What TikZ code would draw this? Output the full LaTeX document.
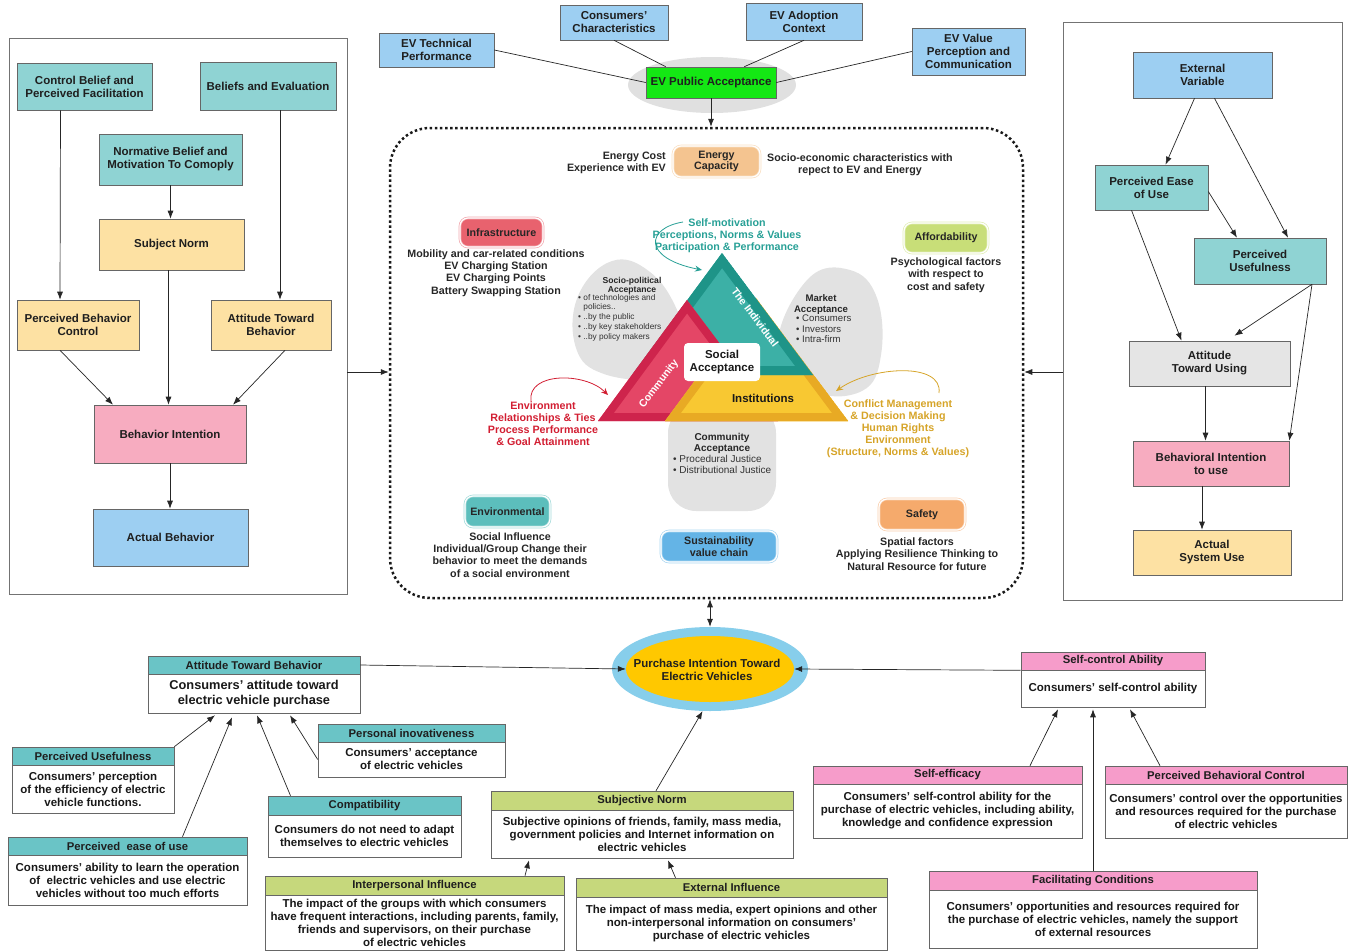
\documentclass[tikz,border=0pt]{standalone}
\usepackage{fontspec}
\setmainfont{Liberation Sans}
\usetikzlibrary{arrows.meta,shapes.geometric,calc}
\definecolor{lblue}{RGB}{157,207,242}
\definecolor{tealL}{RGB}{143,211,211}
\definecolor{peach}{RGB}{253,225,163}
\definecolor{pinkB}{RGB}{247,172,192}
\definecolor{grayE}{RGB}{224,224,224}
\definecolor{evgreen}{RGB}{20,232,20}
\definecolor{hteal}{RGB}{106,196,198}
\definecolor{hgreen}{RGB}{198,216,124}
\definecolor{hpink}{RGB}{246,156,202}
\definecolor{skyb}{RGB}{135,206,235}
\definecolor{goldy}{RGB}{255,200,0}
\definecolor{enC}{RGB}{244,196,144}
\definecolor{infC}{RGB}{232,98,110}
\definecolor{affC}{RGB}{200,222,120}
\definecolor{envC}{RGB}{92,190,188}
\definecolor{susC}{RGB}{100,180,230}
\definecolor{safC}{RGB}{245,170,108}
\definecolor{blob}{RGB}{226,226,226}
\definecolor{tealD}{RGB}{30,148,136}
\definecolor{tealM}{RGB}{60,176,166}
\definecolor{redD}{RGB}{206,36,76}
\definecolor{redM}{RGB}{228,70,102}
\definecolor{yelD}{RGB}{232,170,36}
\definecolor{yelM}{RGB}{248,200,50}
\definecolor{tealT}{RGB}{40,160,150}
\definecolor{redT}{RGB}{210,30,50}
\definecolor{goldT}{RGB}{214,164,40}
\begin{document}
\begin{tikzpicture}[x=1pt,y=-1pt,
  box/.style={draw=black!60, line width=0.6pt, align=center, inner sep=1pt, text=black!88, font=\bfseries\fontsize{11.5}{13}\selectfont},
  hd/.style={draw=black!60, line width=0.6pt, align=center, inner sep=0pt, text=black!88, font=\bfseries\fontsize{11.3}{12}\selectfont},
  bd/.style={draw=black!60, line width=0.6pt, align=center, inner sep=1pt, fill=white, text=black!90, font=\bfseries\fontsize{11.5}{13}\selectfont},
  pill/.style={rounded corners=8pt, draw=#1!55!white, double=white, double distance=1.2pt, line width=0.7pt, fill=#1, align=center, inner sep=1pt, text=black!85, font=\bfseries\fontsize{10.7}{11.5}\selectfont},
  ann/.style={align=center, inner sep=0pt, text=black!85, font=\bfseries\fontsize{10.7}{12.3}\selectfont},
  arr/.style={-{Latex[length=8pt,width=6pt]}, line width=0.7pt, draw=black!85},
  dbl/.style={{Latex[length=8pt,width=6pt]}-{Latex[length=8pt,width=6pt]}, line width=0.7pt, draw=black!85},
  ln/.style={line width=0.7pt, draw=black!85},
  panel/.style={draw=black!55, line width=0.7pt, fill=white},
  curv/.style={line width=0.8pt, -{Stealth[length=7pt,width=6pt]}}
]
\useasboundingbox (0,0) rectangle (1351,950);

% ---------------- top ----------------
\node[fill=grayE, ellipse, minimum width=168, minimum height=56, inner sep=0pt] (pubbg) at (712,85) {};
\node[box, fill=lblue, minimum width=115, minimum height=34] (techperf) at (436.5,50) {EV Technical\\Performance};
\node[box, fill=lblue, minimum width=108, minimum height=35] (conschar) at (614,22.5) {Consumers'\\Characteristics};
\node[box, fill=lblue, minimum width=116, minimum height=37] (adopt) at (804,21.5) {EV Adoption\\Context};
\node[box, fill=lblue, minimum width=113, minimum height=47] (value) at (968.5,51.5) {EV Value\\Perception and\\Communication};
\node[box, fill=evgreen, minimum width=130, minimum height=31] (pubacc) at (711,82.5) {EV Public Acceptance};
\draw[ln] (techperf.east) -- (pubacc.west);
\draw[ln] (conschar.south) -- ([xshift=20pt]pubacc.north west);
\draw[ln] (adopt.south) -- ([xshift=-32pt]pubacc.north east);
\draw[ln] (value.west) -- (pubacc.east);

% ---------------- core dotted box ----------------
\node[draw=black!90, line width=2.5pt, dash pattern=on 2.5pt off 2.6pt, rounded corners=40pt, minimum width=633, minimum height=470] (core) at (706.5,363) {};
\draw[arr] (pubacc.south) -- (pubacc.south |- core.north);

% ---------------- left panel (TPB) ----------------
\node[panel, minimum width=338, minimum height=556] (tpb) at (178,316) {};
\node[box, fill=tealL, minimum width=135, minimum height=47] (cbpf) at (84.5,86.5) {Control Belief and\\Perceived Facilitation};
\node[box, fill=tealL, minimum width=136, minimum height=48] (beval) at (268,86) {Beliefs and Evaluation};
\node[box, fill=tealL, minimum width=143, minimum height=51] (nbmc) at (170.5,159.5) {Normative Belief and\\Motivation To Comoply};
\node[box, fill=peach, minimum width=145, minimum height=51] (snorm) at (171.5,244.5) {Subject Norm};
\node[box, fill=peach, minimum width=122, minimum height=50] (pbc) at (78,325) {Perceived Behavior\\Control};
\node[box, fill=peach, minimum width=120, minimum height=50] (atb) at (271,325) {Attitude Toward\\Behavior};
\node[box, fill=pinkB, minimum width=152, minimum height=58] (bint) at (170,434) {Behavior Intention};
\node[box, fill=lblue, minimum width=155, minimum height=57] (abeh) at (170.5,537.5) {Actual Behavior};
\draw[arr] ([xshift=-24pt]cbpf.south) -- ([xshift=-18pt]pbc.north);
\draw[arr] ([xshift=12pt]beval.south) -- ([xshift=9pt]atb.north);
\draw[arr] (nbmc.south) -- (nbmc.south |- snorm.north);
\draw[arr] ([xshift=-3pt]snorm.south) -- ([xshift=-3pt]snorm.south |- bint.north);
\draw[arr] ([xshift=-18pt]pbc.south) -- ([xshift=-57pt]bint.north);
\draw[arr] ([xshift=14pt]atb.south) -- ([xshift=63pt]bint.north);
\draw[arr] (bint.south) -- (bint.south |- abeh.north);
\draw[arr] (tpb.east |- 0,372) -- (core.west |- 0,372);

% ---------------- right panel (TAM) ----------------
\node[panel, minimum width=279, minimum height=578] (tam) at (1202.5,311) {};
\node[box, fill=lblue, minimum width=139, minimum height=46] (extv) at (1202.5,75) {External\\Variable};
\node[box, fill=tealL, minimum width=113, minimum height=45] (peou) at (1151.5,187.5) {Perceived Ease\\of Use};
\node[box, fill=tealL, minimum width=132, minimum height=46] (pu) at (1260,261) {Perceived\\Usefulness};
\node[box, fill=black!10, minimum width=161, minimum height=45] (atu) at (1209.5,363.5) {Attitude\\Toward Using};
\node[box, fill=pinkB, minimum width=156, minimum height=45] (biu) at (1211,463.5) {Behavioral Intention\\to use};
\node[box, fill=peach, minimum width=158, minimum height=45] (asu) at (1212,552.5) {Actual\\System Use};
\draw[arr] ([xshift=-8pt]extv.south) -- ([xshift=14pt]peou.north);
\draw[arr] ([xshift=12pt]extv.south) -- ([xshift=28pt]pu.north);
\draw[arr] ([yshift=-4pt]peou.east) -- ([xshift=-23pt]pu.north);
\draw[arr] ([xshift=-20pt]peou.south) -- ([xshift=-28pt]atu.north);
\draw[arr] ([xshift=52pt]pu.south) -- ([xshift=25pt,yshift=5pt]atu.north);
\draw[arr] ([xshift=52pt]pu.south) -- (biu.north east);
\draw[arr] ([xshift=-4pt]atu.south) -- ([xshift=-4pt]atu.south |- biu.north);
\draw[arr] ([xshift=-9pt]biu.south) -- ([xshift=-9pt]biu.south |- asu.north);
\draw[arr] (tam.west |- 0,372) -- (core.east |- 0,372);

% ---------------- inside core ----------------
% blobs
\fill[blob] plot[smooth cycle, tension=0.7] coordinates {(612,261) (650,272) (678,312) (690,362) (662,379) (604,374) (576,348) (578,296)};
\fill[blob] plot[smooth cycle, tension=0.7] coordinates {(808,279) (850,270) (877,298) (881,355) (862,391) (812,390) (778,345)};
\fill[blob, rounded corners=28pt] (668,405) rectangle (776,511);

% triangles
\begin{scope}
\clip (756,298)--(665,421)--(848,421)--cycle;
\fill[yelM] (756,298)--(665,421)--(848,421)--cycle;
\draw[yelD, line width=16pt, line join=miter] (756,298)--(665,421)--(848,421)--cycle;
\end{scope}
\begin{scope}
\clip (722,253)--(632,375)--(813,375)--cycle;
\fill[tealM] (722,253)--(632,375)--(813,375)--cycle;
\draw[tealD, line width=18pt, line join=miter] (722,253)--(632,375)--(813,375)--cycle;
\end{scope}
\begin{scope}
\clip (687,300)--(598,421)--(778,421)--cycle;
\fill[redM] (687,300)--(598,421)--(778,421)--cycle;
\draw[redD, line width=16pt, line join=miter] (687,300)--(598,421)--(778,421)--cycle;
\end{scope}
\begin{scope}
\clip (600,376) rectangle (860,425);
\clip (756,298)--(665,421)--(848,421)--cycle;
\fill[yelM] (756,298)--(665,421)--(848,421)--cycle;
\draw[yelD, line width=16pt, line join=miter] (756,298)--(665,421)--(848,421)--cycle;
\end{scope}
\node[fill=white, rounded corners=4pt, minimum width=76, minimum height=38, inner sep=1pt, align=center, text=black!90, font=\bfseries\fontsize{11.5}{13.5}\selectfont] (soc) at (722,362) {Social\\Acceptance};
\node[text=white, inner sep=0pt, rotate=-53, font=\bfseries\fontsize{10.5}{11}\selectfont] (indiv) at (755,317) {The Individual};
\node[text=white, inner sep=0pt, rotate=53, font=\bfseries\fontsize{10.5}{11}\selectfont] (commu) at (659,384) {Community};
\node[text=black!90, inner sep=0pt, font=\bfseries\fontsize{11.5}{12}\selectfont] (inst) at (763,398) {Institutions};

% blob texts
\node[align=center, inner sep=0pt, text=black!85, font=\bfseries\fontsize{8.6}{9.5}\selectfont] (spa) at (632,286) {Socio-political\\Acceptance};
\node[align=left, inner sep=0pt, anchor=north west, text=black!80, font=\fontsize{8.3}{9.7}\selectfont] (spb) at (578,294) {• of technologies and\\\phantom{•} policies..\\• ..by the public\\• ..by key stakeholders\\• ..by policy makers};
\node[align=center, inner sep=0pt, text=black!85, font=\bfseries\fontsize{9.6}{11}\selectfont] (maa) at (821,305) {Market\\Acceptance};
\node[align=left, inner sep=0pt, anchor=north west, text=black!80, font=\fontsize{9.6}{10.5}\selectfont] (mab) at (796,315) {• Consumers\\• Investors\\• Intra-firm};
\node[align=center, inner sep=0pt, text=black!85, font=\bfseries\fontsize{10}{11}\selectfont] (caa) at (722,443) {Community\\Acceptance};
\node[align=left, inner sep=0pt, anchor=north west, text=black!80, font=\fontsize{10}{11}\selectfont] (cab) at (673,455) {• Procedural Justice\\• Distributional Justice};

% annotations around triangle
\node[ann, text=tealT, font=\bfseries\fontsize{10.7}{12}\selectfont] (selfm) at (727,236) {Self-motivation\\Perceptions, Norms \& Values\\Participation \& Performance};
\node[ann, text=redT, font=\bfseries\fontsize{10.7}{12}\selectfont] (envt) at (543,424) {Environment\\Relationships \& Ties\\Process Performance\\\& Goal Attainment};
\node[ann, text=goldT, font=\bfseries\fontsize{10.7}{12}\selectfont] (conf) at (898,429) {Conflict Management\\\& Decision Making\\Human Rights\\Environment\\(Structure, Norms \& Values)};
\coordinate (tealst) at (683,222);
\coordinate (tealtip) at (702,270);
\coordinate (redst) at (531,401);
\coordinate (redtip) at (608,395);
\coordinate (yelst) at (939,393);
\coordinate (yeltip) at (836,391);
\draw[curv, tealT] (tealst) .. controls (646,228) and (642,258) .. (tealtip);
\draw[curv, redT] (redst) .. controls (527,372) and (585,372) .. (redtip);
\draw[curv, goldT] (yelst) .. controls (943,362) and (872,366) .. (yeltip);

% pills and texts
\node[pill=enC, minimum width=87, minimum height=31] (energy) at (716.5,161.5) {Energy\\Capacity};
\node[ann, anchor=east, align=right] (ecost) at (666,163) {Energy Cost\\Experience with EV};
\node[ann] (socio) at (860,165) {Socio-economic characteristics with\\repect to EV and Energy};
\node[pill=infC, minimum width=83, minimum height=29] (infra) at (501.5,232.5) {Infrastructure};
\node[ann] (infrat) at (496,273) {Mobility and car-related conditions\\EV Charging Station\\EV Charging Points\\Battery Swapping Station};
\node[pill=affC, minimum width=84, minimum height=30] (afford) at (946,238) {Affordability};
\node[ann] (affordt) at (946,275) {Psychological factors\\with respect to\\cost and safety};
\node[pill=envC, minimum width=85, minimum height=31] (envir) at (507.5,511.5) {Environmental};
\node[ann] (envirt) at (510,555) {Social Influence\\Individual/Group Change their\\behavior to meet the demands\\of a social environment};
\node[pill=susC, minimum width=116, minimum height=31] (sustain) at (719,546.5) {Sustainability\\value chain};
\node[pill=safC, minimum width=86, minimum height=31] (safety) at (922,514.5) {Safety};
\node[ann] (safetyt) at (917,554) {Spatial factors\\Applying Resilience Thinking to\\Natural Resource for future};

% ---------------- bottom ----------------
\node[ellipse, fill=skyb, minimum width=196, minimum height=84, inner sep=0pt] (pio) at (710,669) {};
\node[ellipse, fill=goldy, minimum width=168, minimum height=66, inner sep=0pt] (pin) at (710,669) {};
\node[align=center, inner sep=0pt, text=black!88, font=\bfseries\fontsize{11.5}{13}\selectfont] (pit) at (707,670) {Purchase Intention Toward\\Electric Vehicles};
\draw[dbl] (pio.north |- core.south) -- (pio.north);

% attitude group
\node[hd, fill=hteal, minimum width=212, minimum height=18] (atbh) at (254,665) {Attitude Toward Behavior};
\node[bd, minimum width=212, minimum height=39, font=\bfseries\fontsize{12.8}{15}\selectfont] (atbb) at (254,693.5) {Consumers' attitude toward\\electric vehicle purchase};
\node[hd, fill=hteal, minimum width=187, minimum height=18] (pinh) at (411.5,733) {Personal inovativeness};
\node[bd, minimum width=187, minimum height=35] (pinb) at (411.5,759.5) {Consumers' acceptance\\of electric vehicles};
\node[hd, fill=hteal, minimum width=162, minimum height=18] (puh) at (93,756) {Perceived Usefulness};
\node[bd, minimum width=162, minimum height=48] (pub) at (93,789) {Consumers' perception\\of the efficiency of electric\\vehicle functions.};
\node[hd, fill=hteal, minimum width=193, minimum height=19] (comh) at (364.5,805.5) {Compatibility};
\node[bd, minimum width=193, minimum height=42] (comb) at (364.5,836) {Consumers do not need to adapt\\themselves to electric vehicles};
\node[hd, fill=hteal, minimum width=239, minimum height=18] (peh) at (127.5,846) {Perceived~~ease of use};
\node[bd, minimum width=239, minimum height=50] (peb) at (127.5,880) {Consumers' ability to learn the operation\\of~ electric vehicles and use electric\\vehicles without too much efforts};
\draw[arr] (atbh.east) -- (pin.west);
\draw[arr] (puh.north east) -- ([xshift=-39pt,yshift=-2pt]atbb.south);
\draw[arr] ([xshift=55pt]peh.north) -- ([xshift=-22pt,yshift=-4pt]atbb.south);
\draw[arr] ([xshift=-74pt]comh.north) -- ([xshift=3pt,yshift=-2pt]atbb.south);
\draw[arr] (pinb.west) -- ([xshift=36pt,yshift=-2pt]atbb.south);

% subjective norm group
\node[hd, fill=hgreen, minimum width=302, minimum height=19] (snh) at (642,800.5) {Subjective Norm};
\node[bd, minimum width=302, minimum height=48] (snb) at (642,834) {Subjective opinions of friends, family, mass media,\\government policies and Internet information on\\electric vehicles};
\node[hd, fill=hgreen, minimum width=299, minimum height=19] (iih) at (414.5,885.5) {Interpersonal Influence};
\node[bd, minimum width=299, minimum height=55] (iib) at (414.5,922.5) {The impact of the groups with which consumers\\have frequent interactions, including parents, family,\\friends and supervisors, on their purchase\\of electric vehicles};
\node[hd, fill=hgreen, minimum width=311, minimum height=19] (eih) at (731.5,887.5) {External Influence};
\node[bd, minimum width=311, minimum height=53] (eib) at (731.5,923.5) {The impact of mass media, expert opinions and other\\non-interpersonal information on consumers'\\purchase of electric vehicles};
\draw[arr] ([xshift=14pt]snh.north) -- (pio.-100);
\draw[arr] ([xshift=110.5pt]iih.north) -- ([xshift=-113pt,yshift=-2pt]snb.south);
\draw[arr] ([xshift=-56pt]eih.north) -- ([xshift=26pt,yshift=-2pt]snb.south);

% self-control group
\node[hd, fill=hpink, minimum width=184, minimum height=18] (scah) at (1113,661) {Self-control Ability};
\node[bd, minimum width=184, minimum height=37] (scab) at (1113,688.5) {Consumers' self-control ability};
\node[hd, fill=hpink, minimum width=269, minimum height=18] (seh) at (947.5,775) {Self-efficacy};
\node[bd, minimum width=269, minimum height=54] (seb) at (947.5,811) {Consumers' self-control ability for the\\purchase of electric vehicles, including ability,\\knowledge and confidence expression};
\node[hd, fill=hpink, minimum width=242, minimum height=18] (pbch) at (1226,775) {Perceived Behavioral Control};
\node[bd, minimum width=242, minimum height=54] (pbcb) at (1226,811) {Consumers' control over the opportunities\\and resources required for the purchase\\of electric vehicles};
\node[hd, fill=hpink, minimum width=328, minimum height=19] (fch) at (1093,880.5) {Facilitating Conditions};
\node[bd, minimum width=328, minimum height=58] (fcb) at (1093,919) {Consumers' opportunities and resources required for\\the purchase of electric vehicles, namely the support\\of external resources};
\draw[arr] (scah.south west) -- (pin.east);
\draw[arr] ([xshift=82.5pt]seh.north) -- ([xshift=-55pt,yshift=-2pt]scab.south);
\draw[arr] (fch.north) -- ([yshift=-2pt]fch.north |- scab.south);
\draw[arr] ([xshift=-66pt]pbch.north) -- ([xshift=17pt,yshift=-2pt]scab.south);
\end{tikzpicture}
\end{document}
